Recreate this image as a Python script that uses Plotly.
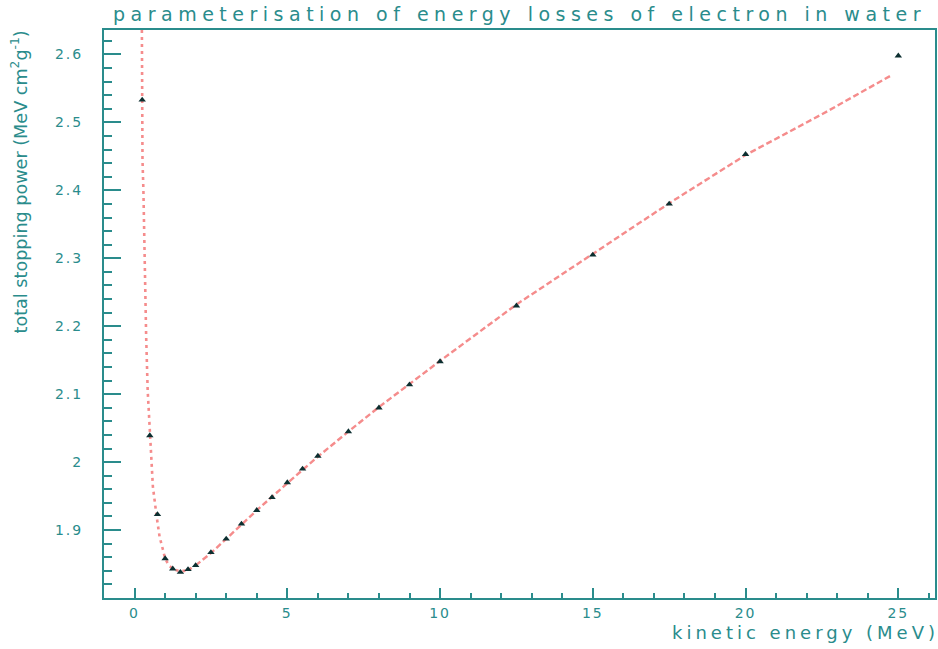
import plotly.graph_objects as go

# Tabulated total stopping power of electrons in water
energy_mev = [0.25, 0.5, 0.75, 1.0, 1.25, 1.5, 1.75, 2.0, 2.5, 3.0, 3.5, 4.0, 4.5,
              5.0, 5.5, 6.0, 7.0, 8.0, 9.0, 10.0, 12.5, 15.0, 17.5, 20.0, 25.0]
stopping_power = [2.533, 2.039, 1.923, 1.858, 1.843, 1.838, 1.842, 1.848, 1.867,
                  1.887, 1.909, 1.929, 1.948, 1.970, 1.990, 2.009, 2.045, 2.080,
                  2.114, 2.148, 2.230, 2.305, 2.380, 2.453, 2.598]

# Parameterisation curve
fit_energy = [0.240, 0.250, 0.260, 0.290, 0.330, 0.380, 0.430, 0.500, 0.600, 0.720,
              0.820, 0.930, 1.000, 1.140, 1.300, 1.500, 1.750, 2.000, 2.500, 3.000,
              4.000, 5.000, 6.000, 7.000, 8.000, 9.000, 10.00, 12.50, 15.00, 17.50,
              20.00, 22.50, 24.80]
fit_power = [2.636, 2.530, 2.445, 2.400, 2.290, 2.185, 2.105, 2.040, 1.964, 1.921,
             1.890, 1.871, 1.858, 1.847, 1.842, 1.839, 1.841, 1.848, 1.866, 1.887,
             1.929, 1.969, 2.008, 2.045, 2.081, 2.115, 2.149, 2.232, 2.307, 2.381,
             2.452, 2.512, 2.570]

x_ticks = [0, 5, 10, 15, 20, 25]
y_ticks = [1.9, 2.0, 2.1, 2.2, 2.3, 2.4, 2.5, 2.6]
y_tick_labels = ["1.9", "2", "2.1", "2.2", "2.3", "2.4", "2.5", "2.6"]

title_text = "parameterisation of energy losses of electron in water"
x_title = "kinetic energy (MeV)"
y_title = "total stopping power (MeV cm<sup>2</sup>g<sup>-1</sup>)"

TEAL = "#2a8c8c"
CURVE = "#f58c8c"
MARK = "#0c2f30"
FONT = "DejaVu Sans"


def spaced(s, px):
    return '<span style="letter-spacing:%spx">%s</span>' % (px, s)


split = 18  # index where the curve changes from dotted to dashed
fig = go.Figure()
fig.add_trace(go.Scatter(
    x=fit_energy[:split], y=fit_power[:split], mode="lines",
    line=dict(color=CURVE, width=2.6, dash="3px,4px"), hoverinfo="skip"))
fig.add_trace(go.Scatter(
    x=fit_energy[split - 1:], y=fit_power[split - 1:], mode="lines",
    line=dict(color=CURVE, width=2.4, dash="6px,3px"), hoverinfo="skip"))
fig.add_trace(go.Scatter(
    x=energy_mev, y=stopping_power, mode="markers",
    marker=dict(symbol="triangle-up", size=6.5, color=MARK)))

axis_common = dict(
    showgrid=False, zeroline=False, showline=True, mirror=True,
    linecolor=TEAL, linewidth=2, ticks="inside", tickcolor=TEAL, tickwidth=1.5,
    tickfont=dict(family=FONT, size=14, color=TEAL),
)

fig.update_xaxes(
    range=[-1.0, 26.2], tickmode="array", tickvals=x_ticks,
    ticktext=[spaced(str(v), 2) for v in x_ticks], ticklen=10,
    minor=dict(dtick=1, tick0=0, ticks="inside", ticklen=5,
               tickcolor=TEAL, tickwidth=1.5),
    ticklabelstandoff=1, **axis_common)
fig.update_yaxes(
    range=[1.80, 2.636], tickmode="array", tickvals=y_ticks,
    ticktext=[spaced(t, 2) for t in y_tick_labels], ticklen=17,
    minor=dict(dtick=0.02, tick0=1.8, ticks="inside", ticklen=8,
               tickcolor=TEAL, tickwidth=1.5),
    ticklabelstandoff=16, **axis_common)

fig.add_annotation(
    text=spaced(title_text, 5.5), xref="paper", yref="paper", x=0.5, y=1,
    xanchor="center", yanchor="bottom", yshift=3, showarrow=False,
    font=dict(family=FONT, size=19, color=TEAL))
fig.add_annotation(
    text=spaced(x_title, 4), xref="paper", yref="paper", x=1, y=0,
    xanchor="right", yanchor="top", xshift=6, yshift=-22, showarrow=False,
    font=dict(family=FONT, size=18, color=TEAL))
fig.add_annotation(
    text=y_title, textangle=-90, xref="paper", yref="paper", x=0, y=1,
    xanchor="center", yanchor="top", xshift=-85, yshift=1, showarrow=False,
    font=dict(family=FONT, size=17.6, color=TEAL))

fig.update_layout(
    width=938, height=649, showlegend=False,
    paper_bgcolor="white", plot_bgcolor="white",
    margin=dict(l=104, r=3, t=30, b=51, autoexpand=False),
)

fig.write_html("out.html")
